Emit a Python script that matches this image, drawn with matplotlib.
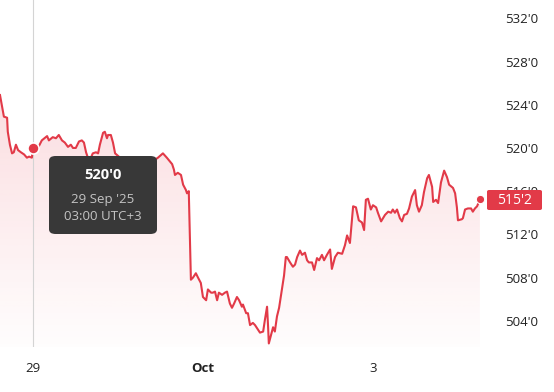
import numpy as np
import matplotlib
matplotlib.use("Agg")
import matplotlib.pyplot as plt
from matplotlib.patches import FancyBboxPatch

plt.rcParams["font.family"] = ["Open Sans", "DejaVu Sans"]

# hours since the "29" tick (29 Sep), price in cents
hours = [-9.3, -8.8, -8.2, -7.3, -7.1, -6.5, -5.9, -5.4, -4.8, -4.2, -3.4, -2.5, -1.7, -1.1, -0.3,
         0.0, 1.1, 2.5, 4.0, 4.5, 5.6, 6.5, 7.3, 8.2, 9.0, 9.9, 10.7, 11.3, 12.1, 13.0, 13.8, 14.4,
         15.0, 15.5, 16.1, 16.9, 17.8, 18.4, 18.9, 19.8, 20.3, 20.9, 21.2, 22.0, 22.6, 23.2, 26.0,
         30.2, 33.6, 35.3, 36.7, 37.8, 39.3, 39.8, 40.1, 40.9, 41.8, 42.4, 43.2, 43.5, 44.0, 44.6,
         45.2, 46.0, 46.6, 47.4, 48.0, 48.9, 49.4, 50.3, 50.8, 51.4, 52.0, 52.5, 53.4, 54.2, 54.8,
         55.6, 56.2, 56.8, 57.6, 58.2, 59.0, 59.3, 60.2, 60.7, 61.3, 62.1, 62.7, 63.3, 64.1, 65.0,
         65.5, 66.1, 66.4, 66.6, 67.5, 67.8, 68.3, 68.9, 69.5, 70.3, 70.9, 71.4, 71.7, 72.6, 73.4,
         74.0, 74.6, 75.4, 76.0, 76.8, 77.4, 77.9, 78.8, 79.4, 80.2, 80.8, 81.6, 82.2, 83.0, 83.9,
         84.4, 85.3, 86.1, 87.3, 88.1, 88.7, 89.5, 90.4, 91.2, 92.0, 92.9, 93.5, 94.0, 94.6, 95.4,
         96.0, 96.9, 97.4, 98.3, 99.4, 100.3, 101.1, 101.6, 102.2, 102.8, 103.6, 104.2, 104.8,
         105.6, 106.2, 107.0, 107.9, 108.4, 109.0, 109.8, 110.4, 111.3, 111.8, 112.7, 113.0, 113.8,
         114.4, 115.2, 116.1, 116.9, 117.5, 118.6, 119.2, 119.7, 120.0, 121.1, 121.4, 122.0, 122.8,
         123.7, 124.2, 124.8, 125.4, 126.2]
prices = [524.9, 524.0, 522.9, 522.8, 521.5, 520.3, 519.5, 519.6, 520.3, 519.8, 519.6, 519.4, 519.1,
          519.2, 519.1, 520.0, 519.8, 520.7, 521.1, 520.7, 521.0, 520.9, 521.2, 520.7, 520.5, 520.1,
          520.3, 520.0, 520.0, 520.6, 520.7, 520.5, 519.6, 519.1, 518.9, 519.5, 519.6, 519.5, 520.3,
          521.4, 521.5, 520.9, 521.2, 521.2, 520.5, 519.5, 518.7, 518.9, 518.7, 519.1, 519.5, 519.1,
          518.5, 518.0, 517.5, 517.7, 517.5, 516.6, 516.1, 515.8, 516.0, 507.8, 508.0, 508.4, 508.0,
          507.5, 506.2, 505.9, 506.9, 506.6, 506.6, 506.7, 505.9, 506.6, 506.4, 506.6, 506.7, 505.6,
          505.2, 505.6, 506.2, 505.9, 505.3, 505.5, 504.7, 504.7, 503.6, 503.8, 503.6, 503.3, 502.9,
          503.0, 504.1, 505.3, 503.4, 501.9, 503.0, 503.4, 503.0, 504.4, 505.2, 506.9, 508.2, 509.9,
          509.9, 509.4, 509.0, 509.2, 509.9, 510.5, 510.1, 510.3, 509.6, 509.4, 509.4, 508.7, 509.8,
          509.6, 510.1, 509.6, 510.1, 510.6, 508.8, 509.9, 510.3, 510.2, 511.0, 511.9, 511.2, 514.6,
          514.5, 513.3, 513.1, 512.4, 515.2, 515.3, 514.3, 514.7, 514.5, 514.0, 513.2, 513.8, 514.1,
          514.0, 514.3, 514.0, 514.3, 513.5, 513.2, 513.8, 513.9, 514.4, 515.5, 516.1, 514.7, 514.1,
          514.7, 515.9, 517.2, 517.5, 516.4, 515.0, 515.2, 514.9, 516.8, 517.9, 517.3, 516.6, 516.3,
          515.8, 514.5, 513.3, 513.4, 513.5, 514.3, 514.4, 514.4, 514.1, 514.4, 514.6, 515.25]

ytick_vals = [504, 508, 512, 516, 520, 524, 528, 532]
xtick_vals = [0, 48, 96]
xtick_labels = ["29", "Oct", "3"]
hover_idx = 15
hover_text = ["520'0", "29 Sep '25", "03:00 UTC+3"]
last_label = "515'2"

red = "#e23a48"

fig = plt.figure(figsize=(5.54, 3.92), dpi=100)
ax = fig.add_axes([0, 45 / 392, 487 / 554, 347 / 392])
ax.set_xlim(-9.3, 128.2)
ax.set_ylim(501.57, 533.7)

x = np.array(hours)
y = np.array(prices)
ylo, yhi = ax.get_ylim()

# gradient area under the line
fill = ax.fill_between(x, y, ylo, color="none", lw=0)
grad = np.linspace(0.17, 0.01, 256).reshape(-1, 1)
rgba = np.zeros((256, 1, 4))
rgba[..., :3] = matplotlib.colors.to_rgb("#e8394a")
rgba[..., 3] = grad
img = ax.imshow(rgba, extent=[x[0], x[-1], ylo, y.max()], aspect="auto", origin="upper", zorder=1)
img.set_clip_path(fill.get_paths()[0], transform=ax.transData)

ax.plot(x, y, color=red, lw=1.5, zorder=3, solid_joinstyle="round")

# crosshair + hovered point
ax.axvline(x[hover_idx], color="#d4d4d4", lw=0.8, zorder=2)
ax.plot(x[hover_idx], y[hover_idx], "o", ms=8, color=red, mec="white", mew=1.2, zorder=4)
ax.plot(x[-1], y[-1], "o", ms=6, color=red, mec="white", mew=0.8, zorder=4, clip_on=False)

for s in ax.spines.values():
    s.set_visible(False)
ax.yaxis.tick_right()
ax.set_yticks(ytick_vals)
ax.set_yticklabels([f"{v}'0" for v in ytick_vals])
ax.set_xticks(xtick_vals)
ax.set_xticklabels(xtick_labels)
ax.tick_params(length=0, labelsize=9.5, colors="#222222")
ax.tick_params(axis="y", pad=13)
ax.tick_params(axis="x", pad=11)
ax.get_xticklabels()[1].set_fontweight("bold")

# tooltip
tip = FancyBboxPatch((49 / 554, 1 - 234 / 392), 108 / 554, 78 / 392,
                     boxstyle="round,pad=0,rounding_size=0.012",
                     transform=fig.transFigure, fc="#383838", ec="none", zorder=10)
fig.patches.append(tip)
fig.text(103 / 554, 1 - 175 / 392, hover_text[0], color="white", fontsize=10.5, fontweight="bold",
         ha="center", va="center", zorder=11)
fig.text(103 / 554, 1 - 199 / 392, hover_text[1], color="#c4c4c4", fontsize=9.5,
         ha="center", va="center", zorder=11)
fig.text(103 / 554, 1 - 217 / 392, hover_text[2], color="#c4c4c4", fontsize=9.5,
         ha="center", va="center", zorder=11)

# last price tag
tag = FancyBboxPatch((487 / 554, 1 - 210 / 392), 55 / 554, 20 / 392,
                     boxstyle="round,pad=0,rounding_size=0.004",
                     transform=fig.transFigure, fc=red, ec="none", zorder=10)
fig.patches.append(tag)
fig.text(514 / 554, 1 - 200 / 392, last_label, color="white", fontsize=10,
         ha="center", va="center", zorder=11)

fig.savefig("out.png", dpi=100)
